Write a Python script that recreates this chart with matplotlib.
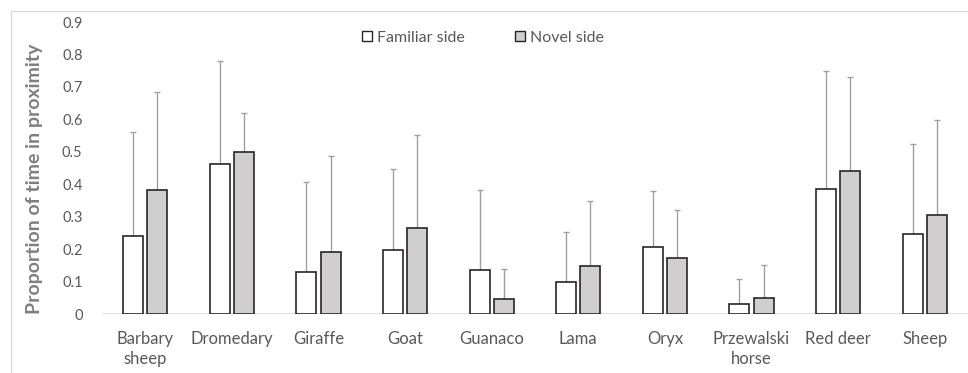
import matplotlib
matplotlib.use("Agg")
import matplotlib.pyplot as plt
from matplotlib.patches import Patch, Rectangle
import numpy as np

plt.rcParams['font.family'] = ['Lato', 'DejaVu Sans']

categories = ["Barbary\nsheep", "Dromedary", "Giraffe", "Goat", "Guanaco",
              "Lama", "Oryx", "Przewalski\nhorse", "Red deer", "Sheep"]
familiar = [0.241, 0.461, 0.129, 0.196, 0.137, 0.098, 0.207, 0.030, 0.386, 0.248]
familiar_err = [0.319, 0.319, 0.278, 0.252, 0.244, 0.154, 0.172, 0.079, 0.363, 0.276]
novel = [0.382, 0.500, 0.191, 0.265, 0.045, 0.148, 0.172, 0.048, 0.441, 0.306]
novel_err = [0.301, 0.119, 0.295, 0.286, 0.094, 0.201, 0.150, 0.102, 0.290, 0.291]
yticks = [0, 0.1, 0.2, 0.3, 0.4, 0.5, 0.6, 0.7, 0.8, 0.9]
ytick_labels = ["0", "0.1", "0.2", "0.3", "0.4", "0.5", "0.6", "0.7", "0.8", "0.9"]

W, H = 968, 373
fig = plt.figure(figsize=(W / 100, H / 100), dpi=100)
ax = fig.add_axes([102 / W, (H - 314) / H, (W - 102) / W, (314 - 22) / H])

text_col = "#595959"
edge_col = "#262626"
err_col = "#a0a0a0"
novel_fill = "#d0cece"

x = np.arange(len(categories))
bw = 0.23
off = 0.14

ax.bar(x - off, familiar, bw, color="white", edgecolor=edge_col, linewidth=1.2, zorder=3)
ax.bar(x + off, novel, bw, color=novel_fill, edgecolor=edge_col, linewidth=1.2, zorder=3)
ax.errorbar(x - off, familiar, yerr=[np.zeros(len(x)), familiar_err], fmt="none",
            ecolor=err_col, elinewidth=1.0, capsize=2.2, capthick=1.0, zorder=2)
ax.errorbar(x + off, novel, yerr=[np.zeros(len(x)), novel_err], fmt="none",
            ecolor=err_col, elinewidth=1.0, capsize=2.2, capthick=1.0, zorder=2)

ax.set_xlim(-0.5, len(categories) - 0.5)
ax.set_ylim(0, 0.9)
ax.set_yticks(yticks)
ax.set_yticklabels(ytick_labels)
ax.set_xticks(x)
ax.set_xticklabels(categories, linespacing=1.35)
for s in ax.spines.values():
    s.set_visible(False)
ax.axhline(0, color="#d9d9d9", linewidth=1.2, zorder=1)
ax.tick_params(axis="y", length=0, pad=14, labelsize=10.5, labelcolor=text_col)
ax.tick_params(axis="x", length=0, pad=12, labelsize=12, labelcolor=text_col)

fig.text(35 / W, (H - 179) / H, "Proportion of time in proximity", rotation=90,
         ha="center", va="center", fontsize=14, fontweight="bold", color="#7f7f7f")

handles = [Patch(facecolor="white", edgecolor=edge_col, linewidth=1.0, label="Familiar side"),
           Patch(facecolor=novel_fill, edgecolor=edge_col, linewidth=1.0, label="Novel side")]
leg = fig.legend(handles=handles, loc="center", bbox_to_anchor=(483 / W, (H - 38) / H),
                 ncol=2, frameon=False, handlelength=0.6, handleheight=0.6,
                 handletextpad=0.3, columnspacing=3.2, fontsize=11.5)
for t in leg.get_texts():
    t.set_color(text_col)

fig.patches.append(Rectangle((10.5 / W, -0.1), 1.2, (H - 11) / H + 0.1,
                             transform=fig.transFigure, fill=False,
                             edgecolor="#d9d9d9", linewidth=0.9))

fig.savefig("out.png", dpi=100, facecolor="white")
